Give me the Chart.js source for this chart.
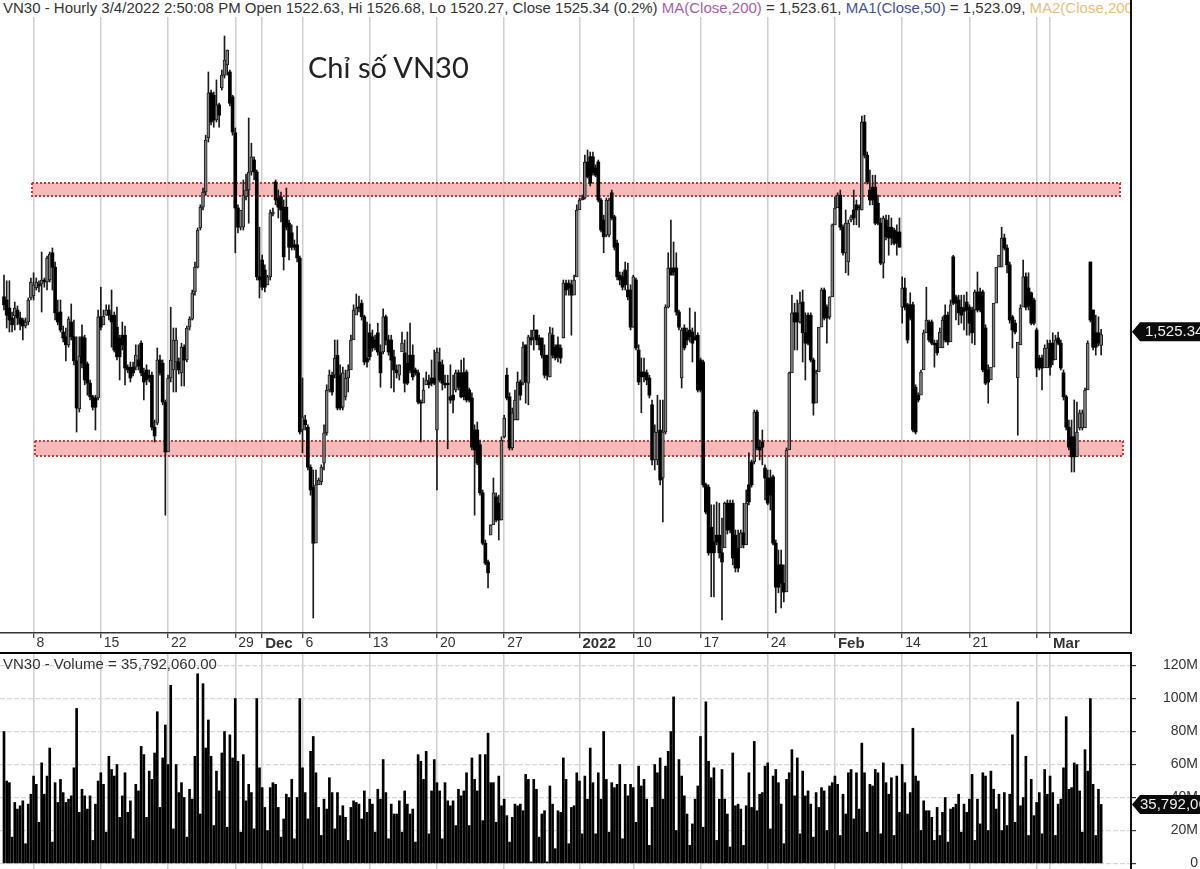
<!DOCTYPE html>
<html><head><meta charset="utf-8">
<style>
html,body{margin:0;padding:0;background:#fff;width:1200px;height:869px;overflow:hidden}
canvas{position:absolute;left:0}
.t{position:absolute;white-space:nowrap;font-family:"Liberation Sans",Arial,sans-serif;color:#333}
#head{left:0;top:0;width:1130px;height:17px;overflow:hidden;background:#fff;font-size:15px;line-height:15px;padding-left:3px;box-sizing:border-box}
#vol{left:3px;top:656px;font-size:15px;line-height:16px}
#name{left:308px;top:50px;font-family:Lato,"Open Sans",sans-serif;font-size:29px;line-height:34px;color:#222}
</style></head><body>
<canvas id="price" width="1200" height="653" style="top:0"></canvas>
<canvas id="volume" width="1200" height="219" style="top:650px"></canvas>
<div class="t" id="head">VN30 - Hourly 3/4/2022 2:50:08 PM Open 1522.63, Hi 1526.68, Lo 1520.27, Close 1525.34 (0.2%) <span style="color:#a85cab">MA(Close,200)</span> = 1,523.61, <span style="color:#3f4f9c">MA1(Close,50)</span> = 1,523.09, <span style="color:#e9bd7c">MA2(Close,200)</span></div>
<div class="t" id="vol">VN30 - Volume = 35,792,060.00</div>
<div class="t" id="name">Chỉ số VN30</div>
<script src="https://cdn.jsdelivr.net/npm/chart.js@4"></script>
<script>
const opens=[
1534.8,1534,1532,1529.5,1530,1531.5,1529.5,1529,1527.5,1528.5,
1534.5,1535,1537,1538,1538,1539,1538.5,1539,1545.8,1542.2,
1530.8,1531,1526,1524.8,1522.8,1528.5,1524.8,1518.8,1506.8,1524.8,
1524.5,1518,1513.2,1509.8,1509.5,1509.5,1529.8,1527.8,1530.2,1531.5,
1530.2,1530.2,1527.2,1524.5,1525.2,1525.2,1517.2,1517.2,1517.2,1517.2,
1519,1523.2,1515.8,1516.5,1515.2,1515.2,1502.2,1503.2,1519,1518.2,
1508.5,1496,1514.5,1516.5,1518.5,1518.5,1515.8,1522.2,1519,1527.2,
1529.2,1536,1542.2,1552,1557.2,1561,1574.5,1585.8,1585.2,1579,
1582.8,1587,1590.2,1592.8,1591,1584.8,1575.8,1557,1552.2,1552.2,
1559.8,1561.5,1566,1569,1566,1539.8,1544,1541.5,1537.8,1539.8,
1555.5,1563.5,1559.5,1559.8,1557.2,1557.2,1553.2,1550.8,1547.8,1547.8,
1544.5,1501.5,1504,1502.2,1492.2,1487.2,1473.2,1487.8,1488.5,1493.2,
1500.8,1511.5,1515.2,1515.2,1520.2,1515.2,1507.2,1509.8,1514.5,1516.5,
1524,1530.2,1532,1533.2,1529.8,1519.5,1525.8,1524.8,1524,1525.8,
1521,1521,1529.8,1524,1524,1519.8,1516.5,1515.2,1521,1520.8,
1518.2,1520.2,1520.2,1516.5,1515.8,1508.5,1508.2,1512.8,1513.5,1514.5,
1514.5,1501.5,1518.5,1517.8,1513.2,1513.2,1509.8,1510.2,1511.5,1515.8,
1515.8,1515.8,1516,1511.5,1509.5,1501.5,1501.5,1497.8,1485.8,1473.2,
1468.5,1475.2,1477.8,1484.8,1483.2,1479,1499.8,1515.2,1509.8,1497,
1504,1504,1513.5,1513.2,1522.8,1513.2,1524.5,1524.5,1526.5,1524.5,
1524.5,1520.2,1520.2,1514.8,1525.2,1522.2,1522.8,1522,1524.5,1538.2,
1538.2,1537.8,1535.2,1539.8,1556.5,1559,1559.5,1568.5,1569.8,1569.8,
1567,1568.5,1559,1554,1550.2,1550.2,1560.8,1554.8,1548.2,1540.2,
1539.8,1541.5,1536.5,1536.5,1527.2,1539,1521.5,1516,1516,1515.8,
1514.5,1507.8,1494,1494,1501.5,1489.5,1501,1532.2,1542,1542,
1542,1531,1514.5,1527,1526,1526.5,1526,1524.8,1525.2,1519,
1518.5,1487.8,1487.2,1477.2,1473.5,1475.2,1475.2,1470.8,1472,1483.2,
1483.2,1483.2,1475.2,1472,1472,1475.8,1472.8,1487.8,1493.5,1493.5,
1506,1497.2,1498.5,1492,1489.5,1489.5,1489.8,1473.2,1467.8,1467.8,
1463.2,1461,1496.5,1515.8,1530.8,1530.8,1528.5,1533.5,1525.8,1530.2,
1530.2,1519,1508.2,1516,1527.2,1536.5,1532.2,1529.8,1534.8,1552.8,
1557,1560.2,1552.2,1545.8,1543.5,1554,1556.5,1557.8,1557.2,1556.5,
1578.5,1570.2,1561.5,1562.2,1562.2,1558.2,1553.2,1543.2,1554,1552.2,
1552.2,1551.5,1551,1551,1532.2,1537,1532.8,1532.8,1532.8,1512.2,
1510.2,1510.2,1516.5,1525.8,1528.5,1528.5,1523.2,1523.2,1522,1522,
1530.2,1530.2,1523.5,1544.8,1534.8,1534,1532.2,1532,1533.5,1532.2,
1531.5,1531.5,1536,1536,1536,1527,1516.5,1514,1517.2,1533.2,
1542.2,1542.2,1549.5,1547,1542.8,1529.8,1528.2,1514.5,1522.8,1532.2,
1539.8,1537,1535.8,1534,1526.5,1519.5,1519.5,1517,1517,1523.2,
1523.2,1519,1524.5,1523.2,1515.8,1509.8,1502.2,1499.8,1499.8,1494.8,
1502,1502,1502,1511.5,1543.5,1531.5,1525.8,1525.8,1522.63];
const closes=[
1532.8,1530.2,1529,1527.8,1532,1529.5,1528,1527.5,1528.5,1534,
1538.5,1537.8,1538.5,1537.5,1539,1538.5,1544.5,1545.5,1542.2,1530.8,
1528.5,1526.5,1524.5,1522.8,1529.2,1524.8,1518.8,1507,1520,1518.2,
1514,1513.2,1509.8,1507.2,1507.2,1529.8,1527.2,1530,1531.5,1530.2,
1528.5,1521.5,1519.8,1519.8,1522.8,1517,1516.5,1514.5,1515.8,1520.2,
1517.5,1515.8,1513.5,1514,1514.5,1502.2,1500,1519,1515.8,1508.5,
1496,1514.5,1519,1524,1524,1516.5,1522.2,1519,1527,1529.2,
1535.8,1542.2,1551.5,1557.2,1561,1574,1585.8,1578.5,1579,1582.8,
1580.2,1590.2,1594,1596.5,1583.2,1576,1557,1552.2,1556.5,1560.2,
1561.5,1566,1569.8,1566,1539.8,1539,1537.2,1537.2,1539.8,1555.8,
1556,1559,1557.2,1556.5,1544.8,1552.2,1547.2,1547.2,1547.2,1544.5,
1501,1504.8,1502.8,1492.2,1486.5,1473.2,1487.8,1489,1492.2,1500.8,
1511.5,1515.2,1511,1519.5,1507,1507,1515.8,1514.5,1516.5,1524,
1531.5,1532,1532,1529.8,1518.5,1518.5,1519.8,1522,1522.2,1521,
1515.8,1529.8,1524,1521,1519,1516.5,1515.8,1517.8,1523.2,1513.2,
1513.2,1516.5,1514.8,1515.8,1508.5,1508.2,1511.5,1514,1512.8,1513.2,
1513.2,1521,1514,1513.2,1512.8,1512.8,1509,1509,1515.8,1512.2,
1509.8,1509.8,1509,1509,1497.2,1496.5,1493.2,1485.8,1473.2,1468.2,
1465.8,1477.8,1485.8,1479,1479,1499,1504.5,1509.5,1497,1505.8,
1509,1513.5,1510.2,1522.2,1513.5,1524.8,1524,1526.5,1524,1522.8,
1520.2,1515.2,1515.2,1525.8,1520.2,1519.5,1519.8,1519.5,1538.2,1536.5,
1537,1535.2,1539,1556.5,1559,1559.5,1568.5,1564.8,1563.2,1565.8,
1565.2,1559,1551.5,1549.8,1559,1559,1554.5,1547.2,1539.8,1539,
1537.2,1537.8,1534.8,1527.2,1539.8,1522,1513.5,1514.8,1514.8,1514,
1510.2,1494,1501,1501,1489,1501,1532.2,1542,1540.2,1541,
1531,1527.2,1526.5,1522,1524,1524.8,1523.2,1524,1511.5,1511.5,
1487.8,1481,1470.8,1470.8,1470.8,1473.5,1470.8,1468.5,1483.2,1476.5,
1476.5,1469.5,1467,1467,1475.8,1472.8,1483.2,1483.5,1487.8,1506,
1497,1496.5,1497.2,1489.5,1483.2,1485.2,1473.2,1462.2,1462.2,1463.2,
1461,1496.5,1515.8,1530.8,1528.5,1528.5,1533.2,1525.8,1523.2,1523.2,
1519,1508.2,1515.8,1527.2,1536.5,1529.5,1529.5,1534.8,1552.8,1557,
1560.2,1552.2,1545.8,1553.2,1553.2,1554.8,1554.5,1556.5,1557,1578.5,
1570.2,1563.5,1559,1559,1553.2,1553.2,1543.2,1554.5,1549.8,1549.5,
1549.5,1548.2,1548.2,1547.2,1537,1532.2,1524,1529.5,1501.5,1501,
1509,1516,1525.8,1529,1524,1523.2,1522.8,1520.8,1526,1529,
1524,1523.5,1532.8,1533.2,1533.2,1530.8,1530.2,1531.2,1531.5,1528.2,
1525.8,1536,1531.5,1531.5,1516.5,1513.2,1513.5,1517.2,1533.2,1542.2,
1545.2,1549.5,1547,1542.8,1529,1526.5,1526,1523.5,1532,1539.8,
1532.2,1532.5,1528.2,1528.2,1517,1517,1517,1522,1522,1517.2,
1519,1524,1523.2,1517,1509.8,1502.2,1497.2,1494.8,1494.8,1501,
1505.8,1505.8,1511.5,1523.2,1529,1522.2,1522.2,1523.2,1525.34];
const highs=[
1540.2,1538.8,1538.8,1531,1533.5,1532.5,1531,1529.5,1529.5,1534.5,
1539.5,1540.8,1539.5,1538.8,1546,1539.5,1545,1546,1547,1543.5,
1534,1534,1527.5,1527,1529.8,1533,1529,1524.8,1524.8,1527.8,
1525.2,1518.5,1514,1510.2,1510.2,1531.5,1537.2,1531.5,1532.8,1532.8,
1536.5,1531,1532.2,1525.2,1528.5,1527.5,1517.8,1518.5,1518.5,1522.8,
1522.8,1523.8,1517,1517.8,1516.5,1516,1504,1522,1520.2,1519,
1509,1515.2,1532.2,1527,1527,1519.5,1523.2,1522.8,1527.5,1529.8,
1536.5,1543.5,1552,1557.8,1562,1575.2,1591,1586.5,1586,1589,
1583.2,1591.5,1600,1596.5,1591.5,1585.2,1577,1557.8,1553.5,1564,
1565.5,1579.5,1573.2,1569.8,1566.5,1552.2,1545.2,1542.8,1540.2,1556.5,
1557,1564,1561.5,1561,1559,1562,1554,1552.8,1549,1552.5,
1545,1514.5,1505.2,1502.8,1492.8,1491.5,1491.5,1489.5,1492.8,1502.8,
1512.8,1516.5,1516,1524,1524,1517.8,1517.2,1516.5,1517.8,1525.2,
1532.8,1535.5,1535,1534,1530.2,1528.5,1528,1526.5,1525.2,1528.2,
1522.8,1531.8,1530.2,1525.2,1525.2,1521.5,1517.8,1517.8,1526,1524,
1526,1528.2,1522.8,1517,1516.5,1509,1514.5,1516,1515.2,1519,
1521.5,1522,1522,1519,1515.2,1515.2,1517.8,1515.2,1516.5,1516.5,
1519,1519.5,1516.5,1512,1510.8,1502.8,1503.5,1499,1486.5,1474,
1469,1477.8,1489.5,1485.8,1485.2,1499.8,1505.2,1517,1510.8,1507,
1511.5,1516,1514,1523.5,1515.2,1525.2,1526.5,1530.2,1526.5,1525.2,
1524.5,1522.8,1520.2,1527.2,1527,1522.8,1524.8,1522.8,1539,1539,
1539,1539,1540.2,1557.8,1559.5,1560.2,1570.2,1571.5,1571,1571,
1567.8,1569,1559.5,1555.2,1559.5,1559.5,1561.5,1555.2,1549,1541,
1541,1543.5,1543.2,1537.8,1540.2,1539.5,1522.8,1519.5,1519.5,1516.5,
1515.2,1509,1502.8,1510.2,1509,1509,1532.8,1545.8,1554,1548.5,
1545.8,1531.5,1527,1527.8,1527,1532,1527,1531,1525.8,1519.5,
1519,1488.2,1487.8,1482.8,1482.8,1483.5,1483.2,1479.5,1483.5,1484,
1484,1484,1476.5,1476.5,1476.5,1483.2,1486.5,1495.8,1494,1506.5,
1506.5,1499,1501.5,1492.8,1491.5,1491.5,1490.2,1474,1471.5,1471.5,
1467.8,1497,1516,1535.2,1533.2,1534,1536,1536.5,1530.8,1530.8,
1530.8,1519.5,1516.5,1516.5,1537,1537,1532.8,1534.8,1553,1559.8,
1560.8,1561.5,1552.8,1556.5,1554,1555.2,1561.5,1559,1557.8,1580,
1580.2,1571,1566.5,1565.2,1565.2,1560.2,1554.5,1555,1555.2,1555.2,
1554.5,1552,1552.8,1554.5,1539.8,1539.5,1533.2,1535.8,1533.5,1512.8,
1510.8,1516.5,1526.5,1537.2,1529,1529,1524,1524,1527,1529.8,
1532.8,1531,1534,1545.2,1535.2,1535.2,1535.2,1535.2,1536,1532.8,
1532.2,1536.5,1541,1537,1536.5,1527.8,1517.8,1516,1517.8,1534,
1542.8,1552.2,1550.5,1547.8,1543.5,1530.2,1529,1516,1532.8,1544,
1540.8,1540.8,1536,1534.5,1527,1520.2,1520.2,1522.8,1524,1524,
1525.8,1525.2,1526,1524,1516.5,1510.2,1504,1504,1509,1508.5,
1506.5,1506.5,1512,1523.8,1543.5,1531.5,1530.2,1529.8,1526.68];
const lows=[
1531.5,1527,1526,1526,1526.5,1527.8,1526.5,1524,1527,1527.8,
1534,1534,1536.5,1536,1531,1537.2,1536.5,1538.5,1536.5,1529,
1527.8,1526,1523.5,1518.8,1522.2,1524,1517.8,1501,1506,1517,
1512.8,1510.2,1509,1506.5,1501.5,1509,1526.5,1528.5,1530.2,1529,
1522.2,1521,1519,1514,1521.5,1512.8,1515.8,1513.5,1515,1516.5,
1516.5,1515,1509,1512.8,1513.5,1501.5,1498.5,1502.8,1515.2,1507.8,
1480.2,1514,1513.5,1511,1511,1515.5,1512.5,1512.5,1518.5,1526.5,
1529,1535.2,1542,1551.5,1556.5,1560.2,1573.5,1577.8,1577.2,1578.5,
1577.2,1586.5,1589.5,1590.2,1582.5,1575.2,1545.8,1550.8,1551.5,1551.5,
1559,1553.2,1565.2,1564,1539,1534.5,1536.5,1536,1537.8,1539,
1555,1557.8,1554.5,1553.5,1541.5,1551.5,1544,1546.5,1546.5,1543.5,
1500.5,1495.8,1501.5,1491.5,1485.2,1454.5,1482.2,1488.2,1487.8,1491.5,
1500.2,1511,1510.2,1514.5,1506.5,1506.5,1506.5,1509,1511,1523.5,
1531,1531.5,1531,1529,1517.8,1517.2,1519,1521.2,1521.5,1520.2,
1512.2,1520.5,1522.8,1520.2,1512,1511,1514.5,1514,1521.5,1511,
1512.8,1515.8,1514,1515.2,1508,1498.5,1511,1513.5,1512,1512.5,
1512.8,1486.5,1513.5,1511.5,1512,1496.8,1508.2,1505.8,1511,1511.5,
1509.5,1509,1508.5,1508.5,1496.5,1480.2,1492.8,1485.2,1472.8,1467.8,
1462,1476.5,1485,1478.5,1474,1479,1499.5,1509,1496.5,1496.5,
1504,1504,1509,1512.8,1508.2,1507.8,1522.8,1521.5,1522.8,1521.5,
1519.5,1514.5,1514,1514.8,1519.5,1519,1518.5,1518.2,1524.5,1535.2,
1535.2,1525.2,1538.5,1556,1558.5,1559,1559.2,1564.5,1562.5,1565.2,
1564.8,1558.5,1551,1545.8,1549.8,1549.8,1554,1546.5,1539,1537.8,
1536.5,1536.5,1534,1526.5,1527.2,1521.5,1512.8,1505.8,1513.5,1512.8,
1509.5,1492.8,1491.5,1492.8,1487.8,1478.5,1500.5,1532,1541,1540.2,
1530.2,1526.5,1512,1521.5,1522.8,1523.5,1518.5,1524,1511,1511,
1487.2,1480.5,1470.2,1459.8,1459.8,1472.8,1469.5,1454,1481.5,1475.5,
1475.8,1467.8,1466,1466,1475.2,1472,1482.8,1482.8,1487.2,1493,
1496.5,1494,1492.8,1484,1482.8,1481.5,1472.8,1455.8,1460.8,1457,
1458.5,1496,1515.2,1528.2,1521.5,1521.5,1528.2,1518.5,1514,1522.8,
1518.5,1505.2,1515.2,1526.5,1536,1529,1523.2,1529.2,1552.2,1556.5,
1559.8,1551.5,1545.2,1540.8,1540.2,1553.5,1552.8,1552.8,1552.2,1556.5,
1569.5,1563,1557.8,1557.8,1552.8,1552.8,1542.8,1539.5,1549,1545.2,
1547.8,1547.8,1545.2,1547.2,1528.2,1531.5,1523.2,1529,1501,1500.5,
1508.5,1515.2,1525.2,1528.5,1523.5,1522.8,1517.2,1520.2,1525.2,1527.8,
1523.5,1522.8,1532.2,1532.8,1529,1527.8,1528.2,1526.5,1525.2,1525.2,
1523.2,1522.8,1531,1531,1516,1512.8,1508.2,1516.5,1532.8,1541.5,
1544.5,1546.5,1546.5,1540.8,1528.2,1522,1525.5,1500.2,1531.5,1539,
1531.5,1531.5,1527.8,1527.8,1514.8,1516.5,1511.5,1521.5,1521.5,1515.2,
1517.8,1522.8,1522.8,1516.5,1509,1501.5,1496.5,1491,1491,1500.2,
1501.5,1501.5,1511,1522.8,1528.5,1521.5,1520.2,1522.5,1520.27];
const volumes=[
80,50,49,16,37,33,35,38,12,36,
42,53,48,25,61,42,53,70,13,49,
37,51,43,37,39,41,58,94,31,45,
41,33,41,14,36,50,55,48,19,65,
57,53,60,28,41,55,31,38,15,48,
44,71,66,28,56,51,67,92,34,64,
84,60,108,21,60,43,49,40,16,45,
39,65,115,30,109,70,87,65,23,56,
44,67,80,22,78,64,100,62,19,66,
38,48,43,21,100,58,46,34,20,46,
49,48,34,16,27,42,40,51,15,40,
100,58,43,27,68,77,55,34,17,39,
33,52,43,21,43,29,35,28,14,34,
38,37,36,27,44,31,39,36,19,45,
39,63,43,15,36,30,30,38,19,44,
36,30,33,13,66,62,51,68,18,44,
63,49,44,15,49,38,35,38,23,45,
41,44,55,23,64,51,44,66,26,66,
79,49,49,25,53,35,39,29,13,28,
36,35,36,32,54,51,1,51,45,16,
30,32,1,47,36,9,32,31,64,51,
12,34,35,55,50,18,53,39,70,49,
18,55,39,80,51,19,
49,46,48,60,15,48,41,48,46,25,
59,47,51,39,11,34,60,55,64,39,
59,68,80,101,20,63,53,41,30,11,
24,39,47,77,22,98,62,52,58,14,
39,57,39,30,10,67,35,36,33,11,
35,55,34,74,32,42,43,59,61,21,
53,57,49,36,12,51,55,69,41,64,
18,56,41,44,36,16,43,34,46,44,
20,47,49,53,48,17,42,30,55,57,
27,55,33,73,55,19,48,47,57,55,
18,61,49,42,52,17,53,31,60,49,
30,43,
82,53,50,20,38,32,32,28,14,34,
17,31,40,13,33,34,36,42,19,36,
31,39,54,14,39,24,55,53,20,56,
45,33,42,20,43,23,42,78,25,98,
35,40,65,17,51,29,37,43,18,57,
42,53,43,17,36,39,58,89,45,46,
61,60,44,19,69,56,100,48,17,45,
35.79206];
const tickBars=[11,36,61,86,96,111,136,161,186,214,234,259,284,309,334,359,384,389];
const tickLabels=["8","15","22","29","Dec","6","13","20","27","2022","10","17","24","Feb","14","21","","Mar"];
const boldLabels=["Dec","2022","Feb","Mar"];
const volumeTicks=[0,20,40,60,80,100,120];
const resistanceBand=[1560,1563.25];
const supportBand=[1495,1498.75];
const resistanceSpan=[10.4,415];
const supportSpan=[11.5,416.1];
const priceRange=[1450.75,1609];
const volumeRange=[-3.33,127.6];
const barRange=[-1.49,419.1];
const lastPriceText="1,525.34";
const lastVolumeText="35,792,060.00";

const font='"Liberation Sans",Arial,sans-serif';
function tag(chart,scale,value,text,nudge){
  const c=chart.ctx,y=scale.getPixelForValue(value)+nudge,x=1131;
  c.save();c.fillStyle='#0a0a0a';c.beginPath();
  c.moveTo(x+1,y);c.lineTo(x+9,y-9.5);c.lineTo(1200,y-9.5);c.lineTo(1200,y+9.5);c.lineTo(x+9,y+9.5);c.closePath();c.fill();
  c.fillStyle='#f0f0f0';c.font='15px '+font;c.textBaseline='middle';c.textAlign='left';
  c.fillText(text,x+(nudge?14:9),y+0.5);c.restore();
}
const bandPlugin={id:'bands',beforeDatasetsDraw(ch){
  const c=ch.ctx,xs=ch.scales.x,ys=ch.scales.y;
  [[resistanceBand,resistanceSpan],[supportBand,supportSpan]].forEach(([b,s])=>{
    const x0=xs.getPixelForValue(s[0]),x1=xs.getPixelForValue(s[1]),y0=ys.getPixelForValue(b[1]),y1=ys.getPixelForValue(b[0]);
    c.save();c.fillStyle='rgba(248,170,170,0.82)';c.fillRect(x0,y0,x1-x0,y1-y0);
    c.strokeStyle='#d0302f';c.lineWidth=2;c.setLineDash([2,2]);c.strokeRect(x0,y0,x1-x0,y1-y0);c.restore();
  });
},afterDraw(ch){tag(ch,ch.scales.y,closes[closes.length-1],lastPriceText,-3);}};
const volTag={id:'volTag',afterDraw(ch){tag(ch,ch.scales.y,volumes[volumes.length-1],lastVolumeText,0);}};
const setTicks=(vals)=>(s)=>{s.ticks=vals.map(v=>({value:v}));};

new Chart(document.getElementById('price'),{
  type:'bar',
  data:{datasets:[
    {order:2,data:highs.map((h,i)=>({x:i,y:[lows[i],h]})),barThickness:1,backgroundColor:'#1a1a1a',grouped:false},
    {order:1,data:opens.map((o,i)=>({x:i,y:[Math.min(o,closes[i]),Math.max(o,closes[i])]})),barThickness:3,
     backgroundColor:opens.map((o,i)=>closes[i]>o?'#808080':'#000'),borderColor:'#1a1a1a',borderWidth:opens.map((o,i)=>closes[i]>o?1:0),borderSkipped:false,grouped:false,minBarLength:1}
  ]},
  options:{responsive:false,animation:false,events:[],layout:{padding:0},
    plugins:{legend:{display:false},tooltip:{enabled:false}},
    scales:{
      x:{type:'linear',min:barRange[0],max:barRange[1],offset:false,afterBuildTicks:setTicks(tickBars),afterFit:s=>{s.height=20;s.paddingLeft=0;s.paddingRight=0;},
        grid:{offset:false,color:'#cfcfcf',lineWidth:1.5,tickColor:'#333',tickLength:5,tickWidth:1.2},
        border:{color:'#333',width:1.5},
        ticks:{autoSkip:false,maxRotation:0,minRotation:0,align:'start',labelOffset:3,padding:-3,color:'#333',
          callback:(v,i)=>tickLabels[i],
          font:c=>{const b=boldLabels.includes(tickLabels[c.index]);return {family:font,size:b?15:14,weight:b?'bold':'normal'};}}},
      y:{type:'linear',position:'right',min:priceRange[0],max:priceRange[1],afterFit:s=>{s.width=69;},
        grid:{display:false},border:{color:'#111',width:2},ticks:{display:false}}
    }},
  plugins:[bandPlugin]
});
new Chart(document.getElementById('volume'),{
  type:'bar',
  data:{datasets:[{data:volumes.map((v,i)=>({x:i,y:v})),barThickness:2,backgroundColor:'#000',grouped:false}]},
  options:{responsive:false,animation:false,events:[],layout:{padding:{top:3,right:2}},
    plugins:{legend:{display:false},tooltip:{enabled:false}},
    scales:{
      x:{type:'linear',position:'top',min:barRange[0],max:barRange[1],offset:false,afterBuildTicks:setTicks(tickBars),afterFit:s=>{s.height=0;s.paddingLeft=0;s.paddingRight=0;},
        grid:{offset:false,color:'#cfcfcf',lineWidth:1.5,drawTicks:false},border:{color:'#000',width:2},
        ticks:{display:false,autoSkip:false}},
      y:{type:'linear',position:'right',min:volumeRange[0],max:volumeRange[1],afterBuildTicks:setTicks(volumeTicks),afterFit:s=>{s.width=67;s.paddingTop=0;s.paddingBottom=0;},
        grid:{color:'#d8d8d8',lineWidth:1.2,tickLength:5,tickColor:'#333'},border:{color:'#111',width:2,dash:[5,2]},
        ticks:{autoSkip:false,crossAlign:'far',color:'#333',padding:0,callback:v=>v===0?'0':v+'M',font:{family:font,size:14}}}
    }},
  plugins:[volTag]
});
</script>
</body></html>
